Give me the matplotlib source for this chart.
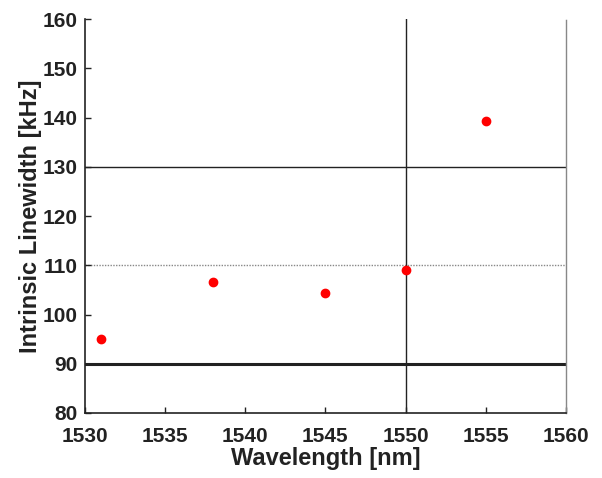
import matplotlib
matplotlib.use('Agg')
import matplotlib.pyplot as plt

# данные
wavelength = [1531, 1538, 1545, 1550, 1555]
linewidth = [95.0, 106.7, 104.4, 109.1, 139.3]

x_ticks = [1530, 1535, 1540, 1545, 1550, 1555, 1560]
y_ticks = [80, 90, 100, 110, 120, 130, 140, 150, 160]

plt.rcParams['font.family'] = ['Liberation Sans', 'DejaVu Sans']
plt.rcParams['font.weight'] = 'bold'

fig = plt.figure(figsize=(6.02, 4.78), dpi=100)
ax = fig.add_axes([0.141, 0.136, 0.799, 0.824])

ax.axhline(90, color='#222222', linewidth=2.2, zorder=1)
ax.axhline(110, color='#888888', linewidth=1.0, linestyle=(0, (1, 1)), zorder=1)
ax.axhline(130, color='#222222', linewidth=1.0, zorder=1)
ax.axvline(1550, color='#222222', linewidth=1.0, zorder=1)

ax.plot(wavelength, linewidth, 'o', color='red', markersize=6, zorder=3)

ax.set_xlim(1530, 1560)
ax.set_ylim(80, 160)
ax.set_xticks(x_ticks)
ax.set_yticks(y_ticks)
ax.tick_params(direction='in', length=4, width=1, labelsize=15, color='#222222')
ax.tick_params(axis='x', pad=10)
ax.tick_params(axis='y', pad=5)

for s in ['left', 'bottom']:
    ax.spines[s].set_color('#222222')
    ax.spines[s].set_linewidth(1.2)
ax.spines['top'].set_visible(False)
ax.spines['right'].set_color('#888888')
ax.spines['right'].set_linestyle((0, (1, 1)))
ax.spines['right'].set_linewidth(1.0)

ax.set_xlabel('Wavelength [nm]', fontsize=17, fontweight='bold', color='#222222', labelpad=1)
ax.set_ylabel('Intrinsic Linewidth [kHz]', fontsize=17, fontweight='bold', color='#222222', labelpad=1)
for lbl in ax.get_xticklabels() + ax.get_yticklabels():
    lbl.set_color('#222222')

fig.savefig('out.png', dpi=100)
